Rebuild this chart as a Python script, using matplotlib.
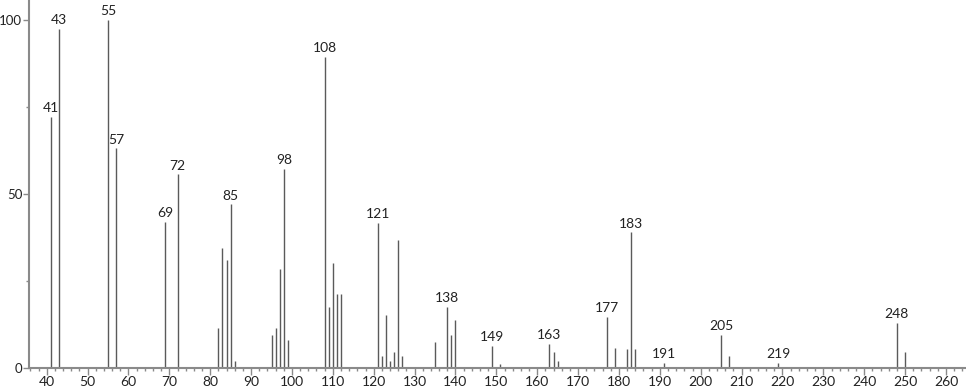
import matplotlib.pyplot as plt
from matplotlib.ticker import MultipleLocator

# m/z and relative intensity
mz = [41, 43, 55, 57, 69, 72, 82, 83, 84, 85, 86, 95, 96, 97, 98, 99,
      108, 109, 110, 111, 112, 121, 122, 123, 124, 125, 126, 127,
      135, 138, 139, 140, 149, 151, 163, 164, 165, 177, 179, 182, 183, 184,
      191, 205, 207, 219, 248, 250]
intensity = [72.1, 97.4, 100.0, 63.1, 42.0, 55.6, 11.3, 34.4, 31.0, 47.0, 2.0,
             9.4, 11.3, 28.5, 57.2, 7.9,
             89.3, 17.6, 30.0, 21.2, 21.2, 41.7, 3.4, 15.2, 1.9, 4.4, 36.7, 3.4,
             7.4, 17.5, 9.4, 13.7, 6.3, 1.1, 6.8, 4.4, 2.0, 14.7, 5.8, 5.4, 38.9, 5.4,
             1.4, 9.4, 3.4, 1.4, 12.8, 4.4]
labelled = [41, 43, 55, 57, 69, 72, 85, 98, 108, 121, 138, 149, 163, 177,
            183, 191, 205, 219, 248]

plt.rcParams['font.family'] = ['Lato', 'DejaVu Sans']

fig = plt.figure(figsize=(9.66, 3.89), dpi=100)
ax = fig.add_axes([29 / 966, 21.3 / 389, 1 - 29 / 966, 367.7 / 389])

ax.vlines(mz, 0, intensity, color='#5a5a5a', linewidth=1.0)

for m, v in zip(mz, intensity):
    if m in labelled:
        ax.annotate(str(m), (m, v), xytext=(0, 2), textcoords='offset points',
                    ha='center', va='bottom', fontsize=10, color='#222222')

ax.set_xlim(35.67, 264.9)
ax.set_ylim(0, 105.75)

ax.xaxis.set_major_locator(MultipleLocator(10))
ax.xaxis.set_minor_locator(MultipleLocator(2))
ax.yaxis.set_major_locator(MultipleLocator(50))
ax.yaxis.set_minor_locator(MultipleLocator(25))

for s in ['top', 'right']:
    ax.spines[s].set_visible(False)
for s in ['left', 'bottom']:
    ax.spines[s].set_color('#8a8a8a')
    ax.spines[s].set_linewidth(1.5)

ax.tick_params(which='major', length=5, width=1, color='#8a8a8a',
               labelsize=10, labelcolor='#222222', pad=1)
ax.tick_params(which='minor', length=2.5, width=1, color='#8a8a8a')
ax.tick_params(axis='y', which='major', length=4.5, labelsize=9.5, pad=0.3)

fig.savefig('out.png', dpi=100)
